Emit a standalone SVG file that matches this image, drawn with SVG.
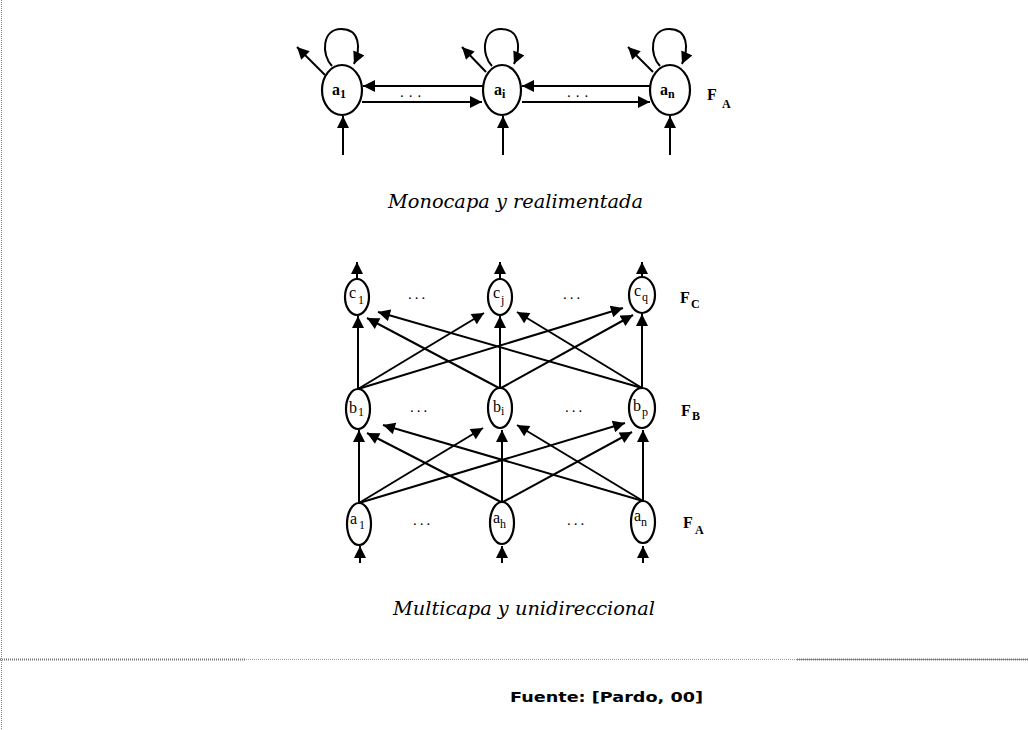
<svg xmlns="http://www.w3.org/2000/svg" width="1028" height="730" viewBox="0 0 1028 730">
<style>
.node{fill:#fff;stroke:#000;stroke-width:2.2}
.e{fill:none;stroke:#000;stroke-width:2}
.lbl{font-family:"Liberation Serif",serif;font-size:16px;fill:#000}
.lb{font-family:"Liberation Serif",serif;font-size:16px;font-weight:bold;fill:#000}
.sub{font-size:12px}
.cap{font-family:"DejaVu Serif",serif;font-style:italic;font-size:18px;fill:#000}
.dots{font-family:"Liberation Serif",serif;font-size:15px;fill:#000;letter-spacing:3px}
.src{font-family:"DejaVu Sans",sans-serif;font-weight:bold;font-size:14px;fill:#000}
</style>
<defs>
<marker id="ah" viewBox="0 0 10 10" refX="10" refY="5" markerWidth="6.5" markerHeight="6" markerUnits="strokeWidth" orient="auto">
<path d="M0,0 L10,5 L0,10 z" fill="#000"/>
</marker>
</defs>
<rect width="1028" height="730" fill="#fff"/>
<line x1="1.5" y1="0" x2="1.5" y2="730" stroke="#888" stroke-width="1" stroke-dasharray="1,1"/>
<line x1="0" y1="659.5" x2="1028" y2="659.5" stroke="#999" stroke-width="1" stroke-dasharray="1,1"/>
<line x1="0" y1="659.5" x2="246" y2="659.5" stroke="#777" stroke-width="2" stroke-dasharray="1,1"/>
<line x1="797" y1="659.5" x2="1028" y2="659.5" stroke="#777" stroke-width="2" stroke-dasharray="1,1"/>

<g id="connectors">
<!-- top: self loops -->
<path class="e" d="M332,66 C321,55 322,29 341,29 C360,29 361,48 354,64" marker-end="url(#ah)"/>
<path class="e" d="M492,66 C481,55 482,29 501,29 C520,29 521,48 514,64" marker-end="url(#ah)"/>
<path class="e" d="M660,66 C649,55 650,29 669,29 C688,29 689,48 682,64" marker-end="url(#ah)"/>
<!-- top: diagonal outputs -->
<line class="e" x1="325" y1="75" x2="297" y2="47" stroke-width="1.6" marker-end="url(#ah)"/>
<line class="e" x1="486" y1="72" x2="462" y2="47" stroke-width="1.6" marker-end="url(#ah)"/>
<line class="e" x1="653" y1="72" x2="628" y2="47" stroke-width="1.6" marker-end="url(#ah)"/>
<!-- top: lateral -->
<line class="e" x1="483" y1="86" x2="363" y2="86" marker-end="url(#ah)"/>
<line class="e" x1="362" y1="102" x2="482" y2="102" marker-end="url(#ah)"/>
<line class="e" x1="650" y1="86" x2="522" y2="86" marker-end="url(#ah)"/>
<line class="e" x1="522" y1="102" x2="650" y2="102" marker-end="url(#ah)"/>
<!-- top: inputs -->
<line class="e" x1="343" y1="155" x2="343" y2="116" marker-end="url(#ah)"/>
<line class="e" x1="503" y1="155" x2="503" y2="116" marker-end="url(#ah)"/>
<line class="e" x1="670" y1="155" x2="670" y2="116" marker-end="url(#ah)"/>

<!-- bottom: outputs from c -->
<line class="e" x1="357" y1="280" x2="357" y2="262" marker-end="url(#ah)"/>
<line class="e" x1="500" y1="280" x2="500" y2="262" marker-end="url(#ah)"/>
<line class="e" x1="642" y1="278" x2="642" y2="262" marker-end="url(#ah)"/>
<!-- b -> c -->
<line class="e" x1="358" y1="389" x2="358" y2="316" marker-end="url(#ah)"/>
<line class="e" x1="358" y1="389" x2="484" y2="313" marker-end="url(#ah)"/>
<line class="e" x1="358" y1="389" x2="623" y2="308" marker-end="url(#ah)"/>
<line class="e" x1="499" y1="388" x2="367" y2="318" marker-end="url(#ah)"/>
<line class="e" x1="500" y1="388" x2="500" y2="316" marker-end="url(#ah)"/>
<line class="e" x1="501" y1="388" x2="633" y2="315" marker-end="url(#ah)"/>
<line class="e" x1="642" y1="388" x2="378" y2="312" marker-end="url(#ah)"/>
<line class="e" x1="642" y1="388" x2="517" y2="312" marker-end="url(#ah)"/>
<line class="e" x1="642" y1="388" x2="642" y2="314" marker-end="url(#ah)"/>
<!-- a -> b -->
<line class="e" x1="359" y1="503" x2="359" y2="430" marker-end="url(#ah)"/>
<line class="e" x1="359" y1="503" x2="483" y2="428" marker-end="url(#ah)"/>
<line class="e" x1="359" y1="503" x2="625" y2="423" marker-end="url(#ah)"/>
<line class="e" x1="501" y1="502" x2="367" y2="433" marker-end="url(#ah)"/>
<line class="e" x1="502" y1="502" x2="502" y2="430" marker-end="url(#ah)"/>
<line class="e" x1="503" y1="502" x2="632" y2="432" marker-end="url(#ah)"/>
<line class="e" x1="643" y1="501" x2="383" y2="425" marker-end="url(#ah)"/>
<line class="e" x1="643" y1="501" x2="517" y2="425" marker-end="url(#ah)"/>
<line class="e" x1="643" y1="501" x2="643" y2="430" marker-end="url(#ah)"/>
<!-- inputs to a -->
<line class="e" x1="360" y1="563" x2="360" y2="546" marker-end="url(#ah)"/>
<line class="e" x1="502" y1="563" x2="502" y2="546" marker-end="url(#ah)"/>
<line class="e" x1="643" y1="563" x2="643" y2="546" marker-end="url(#ah)"/>
</g>

<g id="node-top-a1"><ellipse class="node" cx="342" cy="90" rx="20" ry="25"/><text class="lb" x="332" y="95">a<tspan class="sub" dy="3">1</tspan></text></g>
<g id="node-top-ai"><ellipse class="node" cx="502" cy="90" rx="19" ry="25"/><text class="lb" x="494" y="95">a<tspan class="sub" dy="3">i</tspan></text></g>
<g id="node-top-an"><ellipse class="node" cx="670" cy="90" rx="20" ry="25"/><text class="lb" x="660" y="95">a<tspan class="sub" dy="3">n</tspan></text></g>
<text class="dots" x="413" y="97" text-anchor="middle" style="letter-spacing:5px">...</text>
<text class="dots" x="580" y="97" text-anchor="middle" style="letter-spacing:5px">...</text>
<text class="lb" x="707" y="100">F</text><text class="lb sub" x="722" y="108">A</text>
<text class="cap" x="388" y="208" textLength="255" lengthAdjust="spacingAndGlyphs">Monocapa y realimentada</text>

<g id="node-c1"><ellipse class="node" cx="357" cy="297" rx="12" ry="18"/><text class="lbl" x="349" y="298">c<tspan class="sub" dx="2" dy="6">1</tspan></text></g>
<g id="node-cj"><ellipse class="node" cx="500" cy="297" rx="12" ry="18"/><text class="lbl" x="493" y="298">c<tspan class="sub" dx="1" dy="6">j</tspan></text></g>
<g id="node-cq"><ellipse class="node" cx="642" cy="295" rx="13" ry="18"/><text class="lbl" x="634" y="296">c<tspan class="sub" dx="1" dy="5">q</tspan></text></g>
<text class="dots" x="418" y="299" text-anchor="middle">...</text>
<text class="dots" x="573" y="299" text-anchor="middle">...</text>
<text class="lb" x="680" y="303">F</text><text class="lb sub" x="691" y="308">C</text>

<g id="node-b1"><ellipse class="node" cx="358" cy="409" rx="12" ry="20"/><text class="lbl" x="349" y="413">b<tspan class="sub" dx="1" dy="3">1</tspan></text></g>
<g id="node-bi"><ellipse class="node" cx="500" cy="408" rx="12" ry="20"/><text class="lbl" x="493" y="412">b<tspan class="sub" dx="0" dy="3">i</tspan></text></g>
<g id="node-bp"><ellipse class="node" cx="642" cy="408" rx="13" ry="20"/><text class="lbl" x="633" y="411">b<tspan class="sub" dx="1" dy="5">p</tspan></text></g>
<text class="dots" x="420" y="412" text-anchor="middle">...</text>
<text class="dots" x="575" y="412" text-anchor="middle">...</text>
<text class="lb" x="681" y="416">F</text><text class="lb sub" x="692" y="420">B</text>

<g id="node-a1"><ellipse class="node" cx="359" cy="524" rx="12" ry="21"/><text class="lbl" x="350" y="524">a<tspan class="sub" dx="2" dy="5">1</tspan></text></g>
<g id="node-ah"><ellipse class="node" cx="502" cy="523" rx="12" ry="21"/><text class="lbl" x="493" y="523">a<tspan class="sub" dx="0" dy="5">h</tspan></text></g>
<g id="node-an"><ellipse class="node" cx="643" cy="522" rx="12" ry="21"/><text class="lbl" x="634" y="521">a<tspan class="sub" dx="0" dy="5">n</tspan></text></g>
<text class="dots" x="423" y="525" text-anchor="middle">...</text>
<text class="dots" x="577" y="525" text-anchor="middle">...</text>
<text class="lb" x="683" y="528">F</text><text class="lb sub" x="695" y="534">A</text>
<text class="cap" x="393" y="615" textLength="262" lengthAdjust="spacingAndGlyphs">Multicapa y unidireccional</text>

<text class="src" x="510" y="702" textLength="193" lengthAdjust="spacingAndGlyphs">Fuente: [Pardo, 00]</text>
</svg>
